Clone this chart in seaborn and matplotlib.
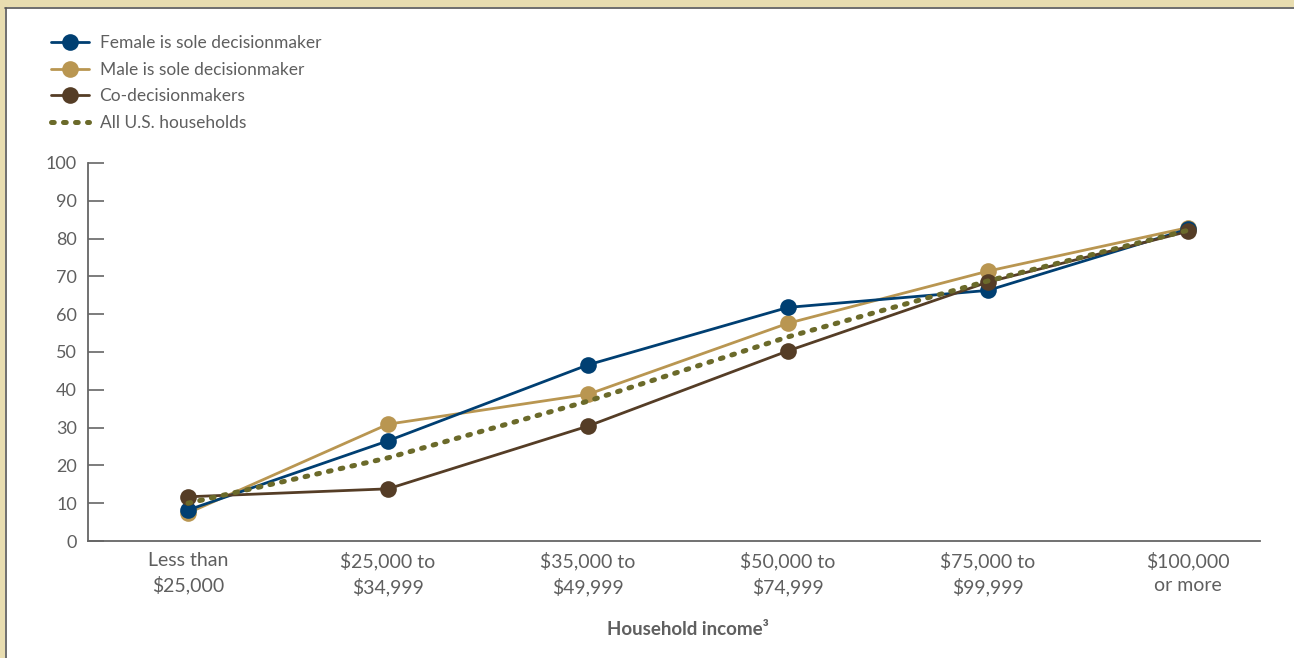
import numpy as np
import pandas as pd
import seaborn as sns
import matplotlib.pyplot as plt
from matplotlib.patches import Rectangle
from matplotlib.lines import Line2D

# income brackets along the x axis
CATEGORIES = ['Less than\n$25,000', '$25,000 to\n$34,999', '$35,000 to\n$49,999',
              '$50,000 to\n$74,999', '$75,000 to\n$99,999', '$100,000\nor more']

# share of households (%)
FEMALE = [8.2, 26.5, 46.6, 61.8, 66.3, 82.5]
MALE = [7.4, 30.9, 38.8, 57.6, 71.4, 82.9]
CO = [11.7, 13.8, 30.4, 50.3, 68.5, 81.9]
ALL_US = [10.0, 22.0, 37.0, 54.0, 68.8, 82.2]

SERIES = ['Female is sole decisionmaker', 'Male is sole decisionmaker',
          'Co-decisionmakers', 'All U.S. households']
COLORS = ['#003f72', '#b99651', '#553d26', '#6b6a2a']

TEXT = '#5f5f5f'
FONT = ['Lato', 'DejaVu Sans']


def build_frame():
    rows = []
    for name, vals in zip(SERIES, [FEMALE, MALE, CO, ALL_US]):
        for i, v in enumerate(vals):
            rows.append({'series': name, 'x': i, 'value': v})
    return pd.DataFrame(rows)


if __name__ == "__main__":
    sns.set_style('white')
    plt.rcParams['font.family'] = FONT

    df = build_frame()
    fig = plt.figure(figsize=(12.94, 6.58), dpi=100)
    fig.patch.set_facecolor('white')

    # beige frame at top and left, like the page the chart came from
    fig.patches.append(Rectangle((0, 1 - 7 / 658), 1, 7 / 658, transform=fig.transFigure,
                                 facecolor='#e8ddb0', edgecolor='none', zorder=0))
    fig.patches.append(Rectangle((0, 0), 5 / 1294, 1, transform=fig.transFigure,
                                 facecolor='#e8ddb0', edgecolor='none', zorder=0))
    fig.lines.append(Line2D([5 / 1294, 1], [1 - 7.5 / 658, 1 - 7.5 / 658], transform=fig.transFigure,
                            color='#555555', lw=1.2))
    fig.lines.append(Line2D([5.5 / 1294, 5.5 / 1294], [0, 1 - 7.5 / 658], transform=fig.transFigure,
                            color='#555555', lw=1.2))

    ax = fig.add_axes([88 / 1294, 1 - 541 / 658, (1260 - 88) / 1294, (541 - 163) / 658])

    for name, col, z in zip(SERIES[:3], COLORS[:3], [4, 3, 5]):
        sub = df[df.series == name]
        sns.lineplot(data=sub, x='x', y='value', ax=ax, color=col, lw=2,
                     marker='o', markersize=12, markeredgewidth=0, label=name, zorder=z)
    sub = df[df.series == SERIES[3]]
    sns.lineplot(data=sub, x='x', y='value', ax=ax, color=COLORS[3], lw=3.6,
                 dashes=False, label=SERIES[3], zorder=6)
    dl = ax.lines[-1]
    dl.set_linestyle((0, (0.55, 1.85)))
    dl.set_dash_capstyle('round')

    ax.set_xlim(-0.5, 5.36)
    ax.set_ylim(0, 100)
    ax.set_xticks(range(len(CATEGORIES)))
    ax.set_xticklabels(CATEGORIES, fontsize=14, color=TEXT, linespacing=1.45)
    ax.set_yticks(range(0, 101, 10))
    ax.tick_params(axis='y', direction='in', length=11.5, width=1.2, color='#666666',
                   labelsize=13, labelcolor=TEXT, pad=8, left=True)
    ax.tick_params(axis='x', length=0, pad=8)
    ax.set_xlabel('')
    ax.set_ylabel('')
    for s in ['top', 'right']:
        ax.spines[s].set_visible(False)
    for s in ['left', 'bottom']:
        ax.spines[s].set_color('#666666')
        ax.spines[s].set_linewidth(1.3)

    ax.text(2.5, -0.235, 'Household income\u00b3', transform=ax.get_xaxis_transform(),
            ha='center', va='center', fontsize=13.5, fontweight='bold', color=TEXT)

    handles, labels = ax.get_legend_handles_labels()
    ax.get_legend().remove()
    leg = fig.legend(handles, labels, loc='upper left', bbox_to_anchor=(44 / 1294, 1 - 28 / 658),
                     frameon=False, fontsize=12.5, handlelength=2.2, handletextpad=0.6,
                     labelspacing=0.62, borderaxespad=0)
    for t in leg.get_texts():
        t.set_color(TEXT)

    fig.savefig('out.png', dpi=100)
